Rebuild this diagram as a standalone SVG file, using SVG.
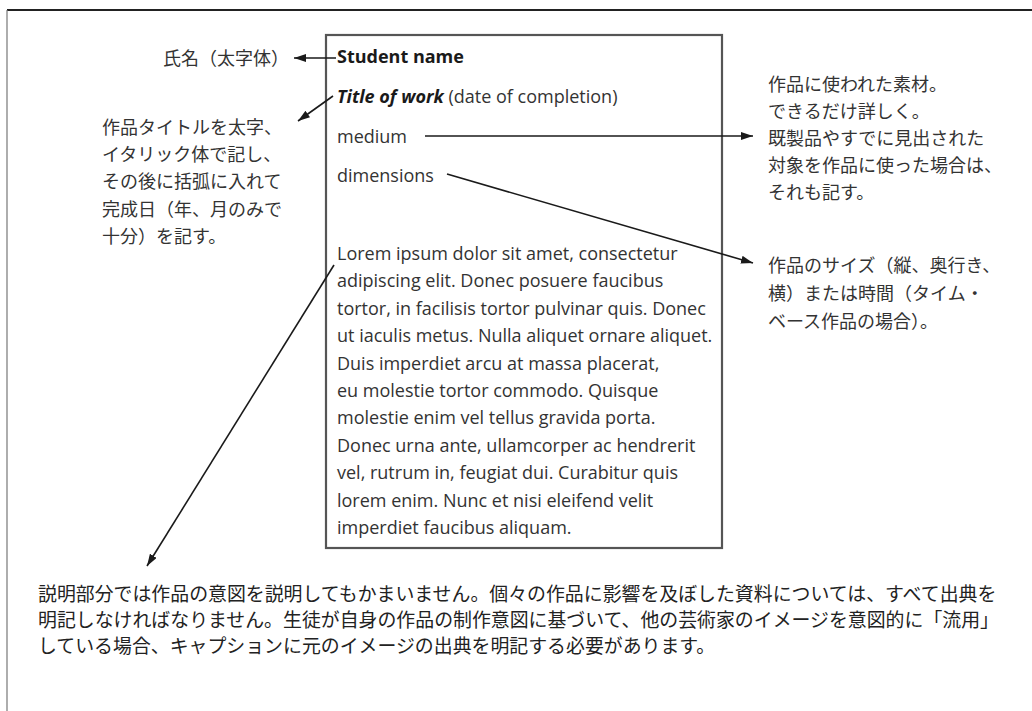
<svg xmlns="http://www.w3.org/2000/svg" width="1032" height="711" viewBox="0 0 1032 711">
<defs>
<marker id="arr" viewBox="0 0 12 8" refX="12" refY="4" markerWidth="12" markerHeight="8" markerUnits="userSpaceOnUse" orient="auto">
<path d="M0,0 L12,4 L0,8 z" fill="#1a1a1a"/>
</marker>
<style>
.en{font-family:"Open Sans","Liberation Sans",sans-serif;font-size:18px;fill:#333}
.b{font-weight:bold;fill:#1a1a1a}
.jp{font-family:"Noto Sans CJK JP","Noto Sans",sans-serif;font-size:18px;fill:#333}
.cap{font-family:"Noto Sans CJK JP","Noto Sans",sans-serif;font-size:18.9px;fill:#222}
.conn{stroke:#1a1a1a;stroke-width:1.6;fill:none;marker-end:url(#arr)}
</style>
</defs>
<rect width="1032" height="711" fill="#fff"/>
<g id="frame">
<line x1="7" y1="10" x2="1032" y2="10" stroke="#222" stroke-width="2"/>
<line x1="7" y1="10" x2="7" y2="711" stroke="#777" stroke-width="1.2"/>
</g>
<g id="caption-card">
<rect x="326" y="35" width="396" height="513" fill="#fff" stroke="#555" stroke-width="2.2"/>
<text class="en b" x="337" y="63">Student name</text>
<text class="en" x="337" y="103"><tspan class="b" font-style="italic">Title of work</tspan> (date of completion)</text>
<text class="en" x="337" y="143">medium</text>
<text class="en" x="337" y="182">dimensions</text>
<text class="en" x="337" y="260">
<tspan x="337" y="260">Lorem ipsum dolor sit amet, consectetur</tspan>
<tspan x="337" y="287.4">adipiscing elit. Donec posuere faucibus</tspan>
<tspan x="337" y="314.8">tortor, in facilisis tortor pulvinar quis. Donec</tspan>
<tspan x="337" y="342.2">ut iaculis metus. Nulla aliquet ornare aliquet.</tspan>
<tspan x="337" y="369.6">Duis imperdiet arcu at massa placerat,</tspan>
<tspan x="337" y="397">eu molestie tortor commodo. Quisque</tspan>
<tspan x="337" y="424.4">molestie enim vel tellus gravida porta.</tspan>
<tspan x="337" y="451.8">Donec urna ante, ullamcorper ac hendrerit</tspan>
<tspan x="337" y="479.2">vel, rutrum in, feugiat dui. Curabitur quis</tspan>
<tspan x="337" y="506.6">lorem enim. Nunc et nisi eleifend velit</tspan>
<tspan x="337" y="534">imperdiet faucibus aliquam.</tspan>
</text>
</g>
<g id="label-name">
<text class="jp" x="289" y="65" text-anchor="end">氏名（太字体）</text>
</g>
<g id="label-title">
<text class="jp">
<tspan x="102" y="134">作品タイトルを太字、</tspan>
<tspan x="102" y="161">イタリック体で記し、</tspan>
<tspan x="102" y="188">その後に括弧に入れて</tspan>
<tspan x="102" y="216">完成日（年、月のみで</tspan>
<tspan x="102" y="243">十分）を記す。</tspan>
</text>
</g>
<g id="label-medium">
<text class="jp">
<tspan x="768" y="91">作品に使われた素材。</tspan>
<tspan x="768" y="118">できるだけ詳しく。</tspan>
<tspan x="768" y="145">既製品やすでに見出された</tspan>
<tspan x="768" y="172">対象を作品に使った場合は、</tspan>
<tspan x="768" y="199">それも記す。</tspan>
</text>
</g>
<g id="label-dimensions">
<text class="jp">
<tspan x="768" y="272">作品のサイズ（縦、奥行き、</tspan>
<tspan x="768" y="300">横）または時間（タイム・</tspan>
<tspan x="768" y="328">ベース作品の場合）。</tspan>
</text>
</g>
<g id="label-description">
<text class="cap">
<tspan x="38" y="601">説明部分では作品の意図を説明してもかまいません。個々の作品に影響を及ぼした資料については、すべて出典を</tspan>
<tspan x="38" y="627">明記しなければなりません。生徒が自身の作品の制作意図に基づいて、他の芸術家のイメージを意図的に「流用」</tspan>
<tspan x="38" y="653">している場合、キャプションに元のイメージの出典を明記する必要があります。</tspan>
</text>
</g>
<g id="connectors">
<line class="conn" x1="336" y1="58" x2="294" y2="58"/>
<line class="conn" x1="333" y1="96" x2="298" y2="121"/>
<line class="conn" x1="425" y1="136" x2="753" y2="136"/>
<line class="conn" x1="447" y1="174" x2="753" y2="263"/>
<line class="conn" x1="334" y1="265" x2="147" y2="566"/>
</g>
</svg>
